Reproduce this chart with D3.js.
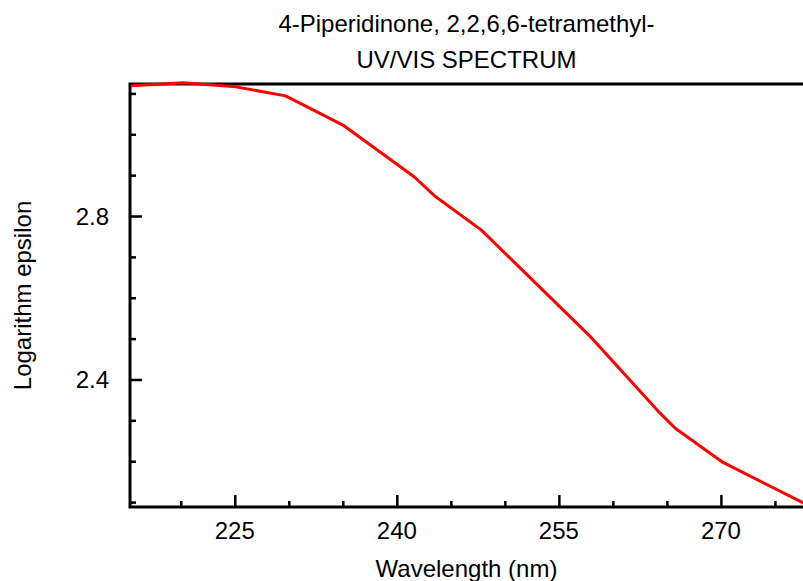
<!DOCTYPE html>
<html>
<head>
<meta charset="utf-8">
<script src="https://cdn.jsdelivr.net/npm/d3@7"></script>
<style>
  body { margin: 0; background: #fff; }
  text { font-family: "Liberation Sans", Arial, sans-serif; fill: #000; }
</style>
</head>
<body>
<svg width="803" height="581"></svg>
<script>
// spectrum values
const wavelength = [215.4, 220.2, 225.1, 229.7, 235.1, 241.6, 243.6, 247.8, 257.8, 264.2, 265.8, 270.2, 277.7];
const logEps = [3.119, 3.126, 3.116, 3.094, 3.021, 2.896, 2.847, 2.766, 2.508, 2.322, 2.280, 2.197, 2.097];
const xTickLabels = [225, 240, 255, 270];
const yTickLabels = [2.4, 2.8];

const svg = d3.select('svg');
const plotLeft = 130, plotRight = 803, plotTop = 84, plotBottom = 507;
const fs = 24;

const x = d3.scaleLinear()
    .domain([215.3, 277.6])
    .range([plotLeft, plotRight]);

const y = d3.scaleLinear()
    .domain([2.088, 3.123])
    .range([plotBottom, plotTop]);

// minor ticks every 5 nm / 0.1
const xMinor = d3.range(220, 277, 5);
const yMinor = d3.range(2.1, 3.15, 0.1).map(v => +v.toFixed(1));

svg.append('g')
    .attr('transform', `translate(0,${plotBottom})`)
    .call(d3.axisTop(x).tickValues(xMinor).tickSize(6).tickFormat(''))
    .call(g => g.select('.domain').remove())
    .call(g => g.selectAll('line').attr('stroke-width', 2.5)
        .attr('y2', d => xTickLabels.includes(d) ? -12 : -6));

svg.append('g')
    .attr('transform', `translate(${plotLeft},0)`)
    .call(d3.axisRight(y).tickValues(yMinor).tickSize(6).tickFormat(''))
    .call(g => g.select('.domain').remove())
    .call(g => g.selectAll('line').attr('stroke-width', 2.5)
        .attr('x2', d => yTickLabels.includes(d) ? 12 : 6));

// tick labels
svg.append('g').selectAll('text')
    .data(xTickLabels)
    .join('text')
    .attr('x', d => x(d))
    .attr('y', 539)
    .attr('text-anchor', 'middle')
    .attr('font-size', fs)
    .text(d => d);

svg.append('g').selectAll('text')
    .data(yTickLabels)
    .join('text')
    .attr('x', 109)
    .attr('y', d => y(d) + 8.5)
    .attr('text-anchor', 'end')
    .attr('font-size', fs)
    .text(d => d.toFixed(1));

// frame lines: left, bottom, top
svg.append('path')
    .attr('d', `M${plotRight},${plotTop}H${plotLeft}V${plotBottom}H${plotRight}`)
    .attr('fill', 'none')
    .attr('stroke', '#000')
    .attr('stroke-width', 3);

// spectrum line
const line = d3.line()
    .x((d, i) => x(wavelength[i]))
    .y(d => y(d));

svg.append('path')
    .datum(logEps)
    .attr('d', line)
    .attr('fill', 'none')
    .attr('stroke', '#ff0000')
    .attr('stroke-width', 3)
    .attr('stroke-linejoin', 'round');

// titles
const cx = (plotLeft + plotRight) / 2;
svg.append('text').attr('x', cx).attr('y', 32).attr('text-anchor', 'middle')
    .attr('font-size', fs).text('4-Piperidinone, 2,2,6,6-tetramethyl-');
svg.append('text').attr('x', cx).attr('y', 68).attr('text-anchor', 'middle')
    .attr('font-size', fs).text('UV/VIS SPECTRUM');
svg.append('text').attr('x', cx).attr('y', 577).attr('text-anchor', 'middle')
    .attr('font-size', fs).text('Wavelength (nm)');
svg.append('text')
    .attr('transform', `translate(31,${(plotTop + plotBottom) / 2}) rotate(-90)`)
    .attr('text-anchor', 'middle')
    .attr('font-size', fs)
    .text('Logarithm epsilon');
</script>
</body>
</html>
